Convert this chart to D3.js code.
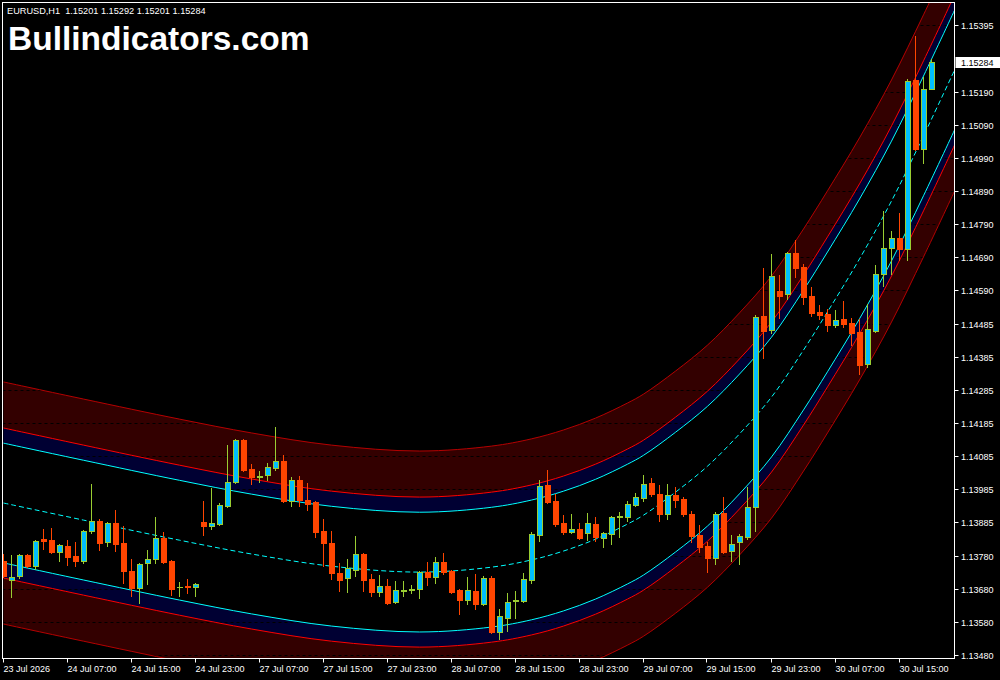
<!DOCTYPE html>
<html><head><meta charset="utf-8">
<script src="https://cdn.jsdelivr.net/npm/d3@7"></script>
<style>html,body{margin:0;padding:0;background:#000;overflow:hidden}</style>
</head><body>
<svg id="c" width="1000" height="680"></svg>
<script>
// ---------------- DATA ----------------
const symbolInfo = "EURUSD,H1  1.15201 1.15292 1.15201 1.15284";
const watermark = "Bullindicators.com";

const opens = [1.13766,1.13708,1.13720,1.13784,1.13750,1.13832,1.13829,1.13793,1.13811,1.13781,
1.13766,1.13857,1.13887,1.13823,1.13881,1.13820,1.13735,1.13683,1.13759,1.13772,
1.13835,1.13766,1.13686,1.13690,1.13687,1.13884,1.13872,1.13878,1.13933,1.14006,
1.14133,1.14045,1.14021,1.14027,1.14048,1.14070,1.13948,1.14012,1.13951,1.13945,
1.13857,1.13820,1.13729,1.13714,1.13738,1.13787,1.13711,1.13671,1.13690,1.13641,
1.13676,1.13679,1.13680,1.13732,1.13717,1.13762,1.13735,1.13677,1.13647,1.13674,
1.13635,1.13714,1.13550,1.13592,1.13643,1.13644,1.13708,1.13845,1.13997,1.13948,
1.13881,1.13854,1.13863,1.13851,1.13878,1.13835,1.13848,1.13898,1.13899,1.13936,
1.13957,1.14003,1.13969,1.13908,1.13966,1.13954,1.13908,1.13845,1.13811,1.13775,
1.13911,1.13796,1.13823,1.13839,1.13930,1.14510,1.14468,1.14586,1.14577,1.14702,
1.14659,1.14571,1.14523,1.14516,1.14483,1.14501,1.14489,1.14462,1.14364,1.14465,
1.14638,1.14717,1.14747,1.14714,1.15228,1.15018,1.15201];
const highs = [1.13787,1.13784,1.13787,1.13787,1.13829,1.13863,1.13866,1.13817,1.13829,1.13823,
1.13860,1.14000,1.13893,1.13884,1.13921,1.13872,1.13772,1.13759,1.13799,1.13899,
1.13854,1.13769,1.13702,1.13711,1.13699,1.13948,1.13987,1.13942,1.14118,1.14136,
1.14136,1.14060,1.14039,1.14063,1.14173,1.14088,1.14021,1.14024,1.14003,1.13948,
1.13893,1.13857,1.13759,1.13772,1.13842,1.13790,1.13726,1.13723,1.13711,1.13705,
1.13705,1.13693,1.13735,1.13762,1.13778,1.13790,1.13738,1.13680,1.13717,1.13726,
1.13720,1.13720,1.13620,1.13668,1.13674,1.13729,1.13854,1.14012,1.14042,1.13969,
1.13905,1.13908,1.13881,1.13911,1.13899,1.13854,1.13902,1.13915,1.13948,1.13972,
1.14027,1.14018,1.13997,1.14000,1.13991,1.13960,1.13918,1.13875,1.13823,1.13915,
1.13960,1.13845,1.13848,1.13991,1.14513,1.14656,1.14699,1.14635,1.14705,1.14741,
1.14668,1.14599,1.14544,1.14532,1.14529,1.14556,1.14504,1.14501,1.14547,1.14665,
1.14830,1.14769,1.14824,1.15231,1.15362,1.15237,1.15292];
const lows = [1.13717,1.13656,1.13714,1.13747,1.13741,1.13802,1.13790,1.13766,1.13753,1.13750,
1.13759,1.13851,1.13799,1.13811,1.13796,1.13699,1.13659,1.13638,1.13696,1.13759,
1.13759,1.13662,1.13659,1.13668,1.13659,1.13845,1.13863,1.13875,1.13930,1.14003,
1.14039,1.14000,1.14006,1.14012,1.14042,1.13945,1.13933,1.13933,1.13921,1.13839,
1.13750,1.13711,1.13674,1.13671,1.13720,1.13674,1.13659,1.13659,1.13635,1.13638,
1.13659,1.13668,1.13653,1.13693,1.13699,1.13726,1.13668,1.13604,1.13635,1.13620,
1.13632,1.13547,1.13528,1.13553,1.13592,1.13641,1.13699,1.13826,1.13942,1.13872,
1.13848,1.13851,1.13832,1.13829,1.13826,1.13808,1.13817,1.13839,1.13887,1.13933,
1.13948,1.13963,1.13887,1.13893,1.13930,1.13902,1.13823,1.13793,1.13732,1.13756,
1.13790,1.13766,1.13756,1.13832,1.13857,1.14383,1.14459,1.14504,1.14562,1.14629,
1.14547,1.14510,1.14501,1.14465,1.14477,1.14477,1.14422,1.14334,1.14355,1.14462,
1.14602,1.14638,1.14681,1.14681,1.15015,1.14975,1.15201];
const closes = [1.13720,1.13717,1.13784,1.13750,1.13826,1.13826,1.13793,1.13814,1.13778,1.13766,
1.13857,1.13887,1.13820,1.13881,1.13817,1.13735,1.13683,1.13756,1.13772,1.13835,
1.13762,1.13680,1.13687,1.13688,1.13696,1.13872,1.13881,1.13936,1.14006,1.14133,
1.14042,1.14021,1.14024,1.14051,1.14070,1.13948,1.14012,1.13951,1.13939,1.13854,
1.13820,1.13729,1.13708,1.13744,1.13787,1.13708,1.13671,1.13690,1.13638,1.13677,
1.13679,1.13681,1.13732,1.13717,1.13762,1.13732,1.13671,1.13647,1.13677,1.13635,
1.13714,1.13550,1.13598,1.13641,1.13646,1.13711,1.13848,1.13994,1.13945,1.13878,
1.13854,1.13863,1.13835,1.13881,1.13839,1.13851,1.13899,1.13901,1.13939,1.13960,
1.14000,1.13969,1.13908,1.13966,1.13951,1.13908,1.13842,1.13808,1.13775,1.13908,
1.13793,1.13817,1.13842,1.13930,1.14507,1.14465,1.14632,1.14571,1.14702,1.14656,
1.14568,1.14519,1.14513,1.14483,1.14498,1.14486,1.14459,1.14361,1.14471,1.14638,
1.14717,1.14747,1.14714,1.15225,1.15018,1.15200,1.15284];

// polynomial channel: centre line sampled at bar numbers, plus band half-widths
const channelBars = [0,10,22,31,41,52,61,66,70,74,78,80,84,88,92,96,100,103,107,111,115,119];
const channelMid  = [1.13942,1.13890,1.13829,1.13787,1.13750,1.13732,1.13747,1.13769,1.13796,1.13832,
1.13878,1.13905,1.13975,1.14054,1.14152,1.14264,1.14407,1.14523,1.14684,1.14860,1.15058,1.15264];
const bandInner = 0.00182;   // cyan lines
const bandMid   = 0.00228;   // red lines
const bandOuter = 0.00368;   // dark red outer lines

const yTickValues = [1.13480,1.13580,1.13680,1.13780,1.13885,1.13985,1.14085,1.14185,1.14285,1.14385,
1.14485,1.14590,1.14690,1.14790,1.14890,1.14990,1.15090,1.15190,1.15395];
const yTickLabels = ["1.13480","1.13580","1.13680","1.13780","1.13885","1.13985","1.14085","1.14185","1.14285","1.14385",
"1.14485","1.14590","1.14690","1.14790","1.14890","1.14990","1.15090","1.15190","1.15395"];
const lastPrice = 1.15284;

const xTickTimes  = ["23 Jul 23:00","24 Jul 07:00","24 Jul 15:00","24 Jul 23:00","27 Jul 07:00","27 Jul 15:00","27 Jul 23:00",
"28 Jul 07:00","28 Jul 15:00","28 Jul 23:00","29 Jul 07:00","29 Jul 15:00","29 Jul 23:00","30 Jul 07:00","30 Jul 15:00"];
const xTickLabels = ["23 Jul 2026","24 Jul 07:00","24 Jul 15:00","24 Jul 23:00","27 Jul 07:00","27 Jul 15:00","27 Jul 23:00",
"28 Jul 07:00","28 Jul 15:00","28 Jul 23:00","29 Jul 07:00","29 Jul 15:00","29 Jul 23:00","30 Jul 07:00","30 Jul 15:00"];

// hourly bar timestamps (market closed at weekend)
const barTimes = [];
{
  const fmt = d3.utcFormat("%d %b %H:%M");
  let t = Date.UTC(2026, 6, 23, 23);
  while (barTimes.length < opens.length) {
    const d = new Date(t), wd = d.getUTCDay();
    if (wd !== 0 && wd !== 6) barTimes.push(fmt(d));
    t += 3600e3;
  }
}

// ---------------- CHART ----------------
const svg = d3.select("#c");
const W = 1000, H = 680;
const plot = {left: 2.5, top: 2.5, right: 954.5, bottom: 658.5};

svg.append("rect").attr("width", W).attr("height", H).attr("fill", "#000");

const x = d3.scaleLinear().domain([0, opens.length - 1]).range([3.5, 931.5]);
const y = d3.scaleLinear().domain([1.13480, 1.15395]).range([655, 25]);

svg.append("clipPath").attr("id", "clip").append("rect")
  .attr("x", plot.left + 0.5).attr("y", plot.top + 0.5)
  .attr("width", plot.right - plot.left - 1).attr("height", plot.bottom - plot.top - 1);

const g = svg.append("g").attr("clip-path", "url(#clip)");

const chan = channelBars.map((b, i) => ({b, m: channelMid[i]}));
const curve = d3.curveCatmullRom.alpha(0.5);

function band(off0, off1) {
  return d3.area().curve(curve).x(d => x(d.b)).y0(d => y(d.m + off0)).y1(d => y(d.m + off1));
}
function line(off) {
  return d3.line().curve(curve).x(d => x(d.b)).y(d => y(d.m + off));
}

// fills
g.append("path").datum(chan).attr("d", band(bandMid, bandOuter)).attr("fill", "#330000");
g.append("path").datum(chan).attr("d", band(-bandMid, -bandOuter)).attr("fill", "#330000");
g.append("path").datum(chan).attr("d", band(bandInner, bandMid)).attr("fill", "#000033");
g.append("path").datum(chan).attr("d", band(-bandInner, -bandMid)).attr("fill", "#000033");

// grid (dashed black, visible over the bands)
g.selectAll("line.grid").data(yTickValues).join("line")
  .attr("class", "grid")
  .attr("x1", plot.left).attr("x2", plot.right)
  .attr("y1", d => Math.round(y(d)) + 0.5).attr("y2", d => Math.round(y(d)) + 0.5)
  .attr("stroke", "#000").attr("stroke-width", 1).attr("stroke-dasharray", "3,3");

// lines
[[bandOuter, "#b40000"], [-bandOuter, "#b40000"], [bandMid, "#ff0000"], [-bandMid, "#ff0000"],
 [bandInner, "#00ffff"], [-bandInner, "#00ffff"]].forEach(([o, c]) => {
  g.append("path").datum(chan).attr("d", line(o)).attr("fill", "none").attr("stroke", c).attr("stroke-width", 1);
});
g.append("path").datum(chan).attr("d", line(0)).attr("fill", "none")
  .attr("stroke", "#00ffff").attr("stroke-width", 1).attr("stroke-dasharray", "5,3");

// candles
const bull = "#00bfff", bullEdge = "#9acd32", bear = "#ff4500";
const idx = d3.range(opens.length);
const cg = g.append("g");
idx.forEach(i => {
  const o = opens[i], h = highs[i], l = lows[i], c = closes[i];
  const cx = x(i);
  const up = c >= o;
  const col = up ? bullEdge : bear;
  cg.append("line").attr("x1", cx).attr("x2", cx)
    .attr("y1", Math.round(y(h))).attr("y2", Math.round(y(l)) + 1)
    .attr("stroke", col).attr("stroke-width", 1);
  const yt = Math.round(y(Math.max(o, c))), yb = Math.round(y(Math.min(o, c)));
  if (yb - yt < 2) {
    cg.append("rect").attr("x", cx - 2.5).attr("y", yt).attr("width", 6).attr("height", Math.max(1, yb - yt + 1))
      .attr("fill", col);
  } else if (up) {
    cg.append("rect").attr("x", cx - 2).attr("y", yt + 0.5).attr("width", 5).attr("height", yb - yt)
      .attr("fill", bull).attr("stroke", bullEdge).attr("stroke-width", 1);
  } else {
    cg.append("rect").attr("x", cx - 2.5).attr("y", yt).attr("width", 6).attr("height", yb - yt + 1)
      .attr("fill", bear);
  }
});

// frame
svg.append("rect").attr("x", plot.left).attr("y", plot.top)
  .attr("width", plot.right - plot.left).attr("height", plot.bottom - plot.top)
  .attr("fill", "none").attr("stroke", "#fff").attr("stroke-width", 1);

// y axis ticks & labels
const fontAxis = "'Liberation Sans', Arial, sans-serif";
yTickValues.forEach((v, i) => {
  const yy = Math.round(y(v)) + 0.5;
  svg.append("line").attr("x1", plot.right).attr("x2", plot.right + 4).attr("y1", yy).attr("y2", yy)
    .attr("stroke", "#fff");
  svg.append("text").attr("x", 961).attr("y", yy + 3.5).text(yTickLabels[i])
    .attr("fill", "#fff").attr("font-family", fontAxis).attr("font-size", "9px");
});
// current price label
{
  const yy = Math.round(y(lastPrice)) + 0.5;
  svg.append("rect").attr("x", 955.5).attr("y", yy - 5.5).attr("width", 45).attr("height", 11).attr("fill", "#fff");
  svg.append("text").attr("x", 961).attr("y", yy + 3.5).text(lastPrice.toFixed(5))
    .attr("fill", "#000").attr("font-family", fontAxis).attr("font-size", "9px");
}

// x axis ticks & labels
xTickTimes.forEach((t, i) => {
  const bi = barTimes.indexOf(t);
  const xx = Math.round(x(bi)) - 0.5;
  svg.append("line").attr("x1", xx).attr("x2", xx).attr("y1", plot.bottom).attr("y2", plot.bottom + 4)
    .attr("stroke", "#fff");
  svg.append("text").attr("x", xx).attr("y", 672).text(xTickLabels[i])
    .attr("fill", "#fff").attr("font-family", fontAxis).attr("font-size", "9px");
});

// header texts
svg.append("text").attr("x", 7).attr("y", 14).text(symbolInfo).attr("xml:space", "preserve")
  .style("white-space", "pre")
  .attr("fill", "#fff").attr("font-family", fontAxis).attr("font-size", "9.2px");
svg.append("text").attr("x", 8).attr("y", 50).text(watermark)
  .attr("fill", "#fff").attr("font-family", "'Liberation Sans', Arial, sans-serif")
  .attr("font-weight", "bold").attr("font-size", "33.5px");
</script>
</body></html>
